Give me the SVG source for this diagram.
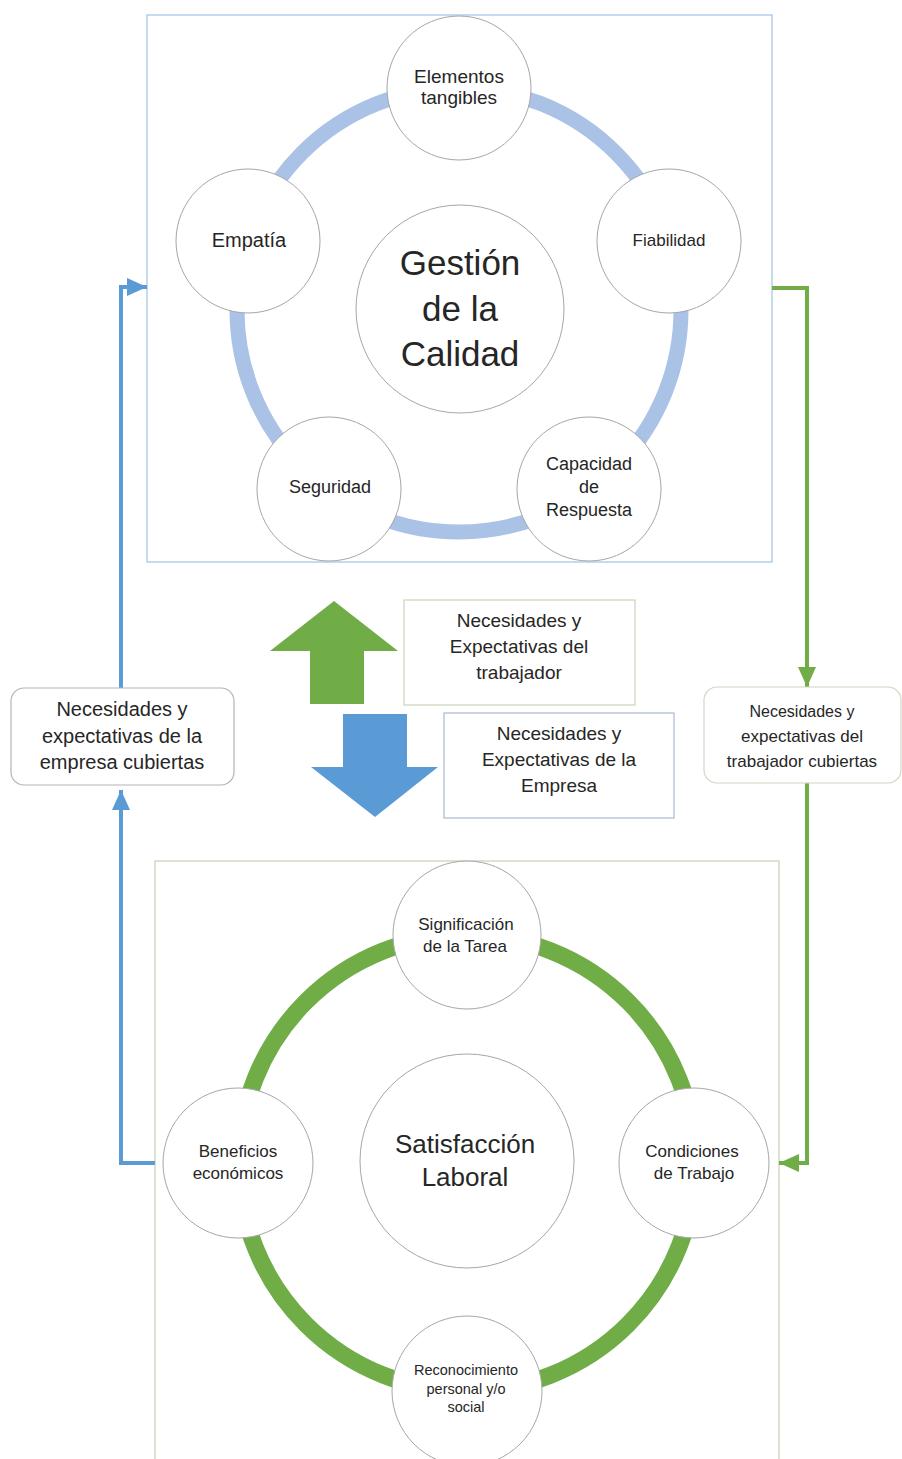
<svg xmlns="http://www.w3.org/2000/svg" width="902" height="1459" viewBox="0 0 902 1459">
<style>
  text { font-family: "Liberation Sans", Arial, sans-serif; fill: #262626; text-anchor: middle; }
  .c { fill: #ffffff; stroke: #a6a6a6; stroke-width: 1; }
  .frameTop { fill: none; stroke: #9dc3e6; stroke-width: 1.2; }
  .frameBot { fill: none; stroke: #c3d3b3; stroke-width: 1.2; }
  .blueLine { fill: none; stroke: #5b9bd5; stroke-width: 4; }
  .greenLine { fill: none; stroke: #70ad47; stroke-width: 4; }
  .s16 { font-size: 16px; }
  .s17 { font-size: 17px; }
  .s18 { font-size: 18px; }
  .s19 { font-size: 19px; }
  .s20 { font-size: 20px; }
</style>
<defs>
  <marker id="headBlue" viewBox="0 0 20 18" refX="20" refY="9" markerWidth="20" markerHeight="18" markerUnits="userSpaceOnUse" orient="auto">
    <path d="M0,0 L20,9 L0,18 Z" fill="#5b9bd5"/>
  </marker>
  <marker id="headGreen" viewBox="0 0 20 18" refX="20" refY="9" markerWidth="20" markerHeight="18" markerUnits="userSpaceOnUse" orient="auto">
    <path d="M0,0 L20,9 L0,18 Z" fill="#70ad47"/>
  </marker>
</defs>
<rect width="902" height="1459" fill="#ffffff"/>

<!-- frames -->
<rect class="frameTop" x="147" y="15" width="625" height="547"/>
<rect class="frameBot" x="155" y="861" width="624" height="620"/>

<!-- rings -->
<circle cx="459" cy="310" r="222" fill="none" stroke="#a9c2e6" stroke-width="15"/>
<circle cx="467" cy="1163" r="228" fill="none" stroke="#70ad47" stroke-width="17"/>

<!-- connectors -->
<g id="connectors">
  <path class="blueLine" d="M155,1163 H121 V790" marker-end="url(#headBlue)"/>
  <path class="blueLine" d="M121,688 V287 H147" marker-end="url(#headBlue)"/>
  <path class="greenLine" d="M772,288 H807 V687" marker-end="url(#headGreen)"/>
  <path class="greenLine" d="M807,783 V1163 H779" marker-end="url(#headGreen)"/>
  <polygon id="arrowUp" points="334,601 398,651 364,651 364,704 310,704 310,651 270,651" fill="#70ad47"/>
  <polygon id="arrowDown" points="343,714 407,714 407,767 438,767 375,817 311,767 343,767" fill="#5b9bd5"/>
</g>

<!-- top nodes -->
<g id="n-elementos"><circle class="c" cx="459" cy="88" r="72"/>
  <text class="s19" x="459" y="83">Elementos</text><text class="s19" x="459" y="104">tangibles</text></g>
<g id="n-fiabilidad"><circle class="c" cx="669" cy="241" r="72"/>
  <text class="s17" x="669" y="246">Fiabilidad</text></g>
<g id="n-empatia"><circle class="c" cx="248" cy="241" r="72"/>
  <text class="s20" x="249" y="247">Empatía</text></g>
<g id="n-seguridad"><circle class="c" cx="329" cy="489" r="72"/>
  <text class="s18" x="330" y="493">Seguridad</text></g>
<g id="n-capacidad"><circle class="c" cx="589" cy="489" r="72"/>
  <text class="s18" x="589" y="470">Capacidad</text><text class="s18" x="589" y="493">de</text><text class="s18" x="589" y="516">Respuesta</text></g>
<g id="n-gestion"><circle class="c" cx="460" cy="309" r="104"/>
  <text x="460" y="275" style="font-size:35px">Gestión</text>
  <text x="460" y="321" style="font-size:35px">de la</text>
  <text x="460" y="366" style="font-size:35px">Calidad</text></g>

<!-- middle boxes -->
<g id="n-necTrabajador"><rect x="404" y="600" width="231" height="105" fill="#ffffff" stroke="#c9d4b8" stroke-width="1.2"/>
  <text class="s19" x="519" y="627">Necesidades y</text><text class="s19" x="519" y="653">Expectativas del</text><text class="s19" x="519" y="679">trabajador</text></g>
<g id="n-necEmpresa"><rect x="444" y="713" width="230" height="105" fill="#ffffff" stroke="#a9b8cf" stroke-width="1.2"/>
  <text class="s19" x="559" y="740">Necesidades y</text><text class="s19" x="559" y="766">Expectativas de la</text><text class="s19" x="559" y="792">Empresa</text></g>
<g id="n-empresaCubiertas"><rect x="11" y="688" width="223" height="97" rx="13" fill="#ffffff" stroke="#b4b4b4" stroke-width="1.2"/>
  <text class="s20" x="122" y="716">Necesidades y</text><text class="s20" x="122" y="743">expectativas de la</text><text class="s20" x="122" y="769">empresa cubiertas</text></g>
<g id="n-trabajadorCubiertas"><rect x="704" y="687" width="197" height="96" rx="13" fill="#ffffff" stroke="#d2d6c6" stroke-width="1.2"/>
  <text class="s16" x="802" y="717">Necesidades y</text><text class="s17" x="802" y="742">expectativas del</text><text class="s17" x="802" y="767">trabajador cubiertas</text></g>

<!-- bottom nodes -->
<g id="n-significacion"><circle class="c" cx="467" cy="935" r="74"/>
  <text class="s17" x="466" y="930">Significación</text><text class="s17" x="465" y="952">de la Tarea</text></g>
<g id="n-beneficios"><circle class="c" cx="238" cy="1163" r="75"/>
  <text class="s17" x="238" y="1157">Beneficios</text><text class="s17" x="238" y="1179">económicos</text></g>
<g id="n-condiciones"><circle class="c" cx="694" cy="1163" r="75"/>
  <text class="s17" x="692" y="1157">Condiciones</text><text class="s17" x="694" y="1179">de Trabajo</text></g>
<g id="n-reconocimiento"><circle class="c" cx="467" cy="1391" r="75"/>
  <text x="466" y="1375" style="font-size:14.5px">Reconocimiento</text><text x="466" y="1394" style="font-size:14.5px">personal y/o</text><text x="466" y="1412" style="font-size:14.5px">social</text></g>
<g id="n-satisfaccion"><circle class="c" cx="467" cy="1161" r="107"/>
  <text x="465" y="1153" style="font-size:26px">Satisfacción</text><text x="465" y="1186" style="font-size:26px">Laboral</text></g>
</svg>
